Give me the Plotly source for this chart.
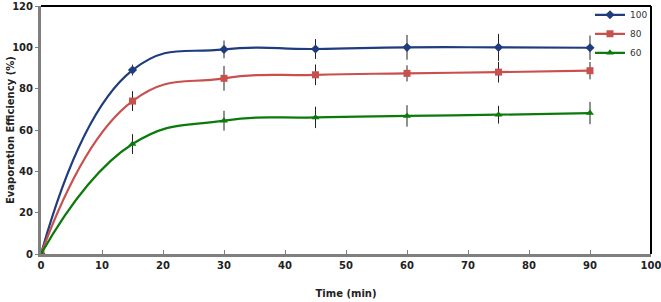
import plotly.graph_objects as go

time_min = [0, 15, 30, 45, 60, 75, 90]
eff_100 = [0, 89.0, 99.0, 99.2, 100.0, 100.0, 99.8]
eff_80 = [0, 74.0, 85.0, 86.7, 87.4, 88.0, 88.7]
eff_60 = [0, 53.2, 64.5, 66.1, 66.8, 67.4, 68.2]
err_100 = [0, 2.6, 4.3, 4.8, 6.0, 6.5, 5.9]
err_80 = [0, 4.8, 6.0, 5.0, 3.9, 5.0, 4.2]
err_60 = [0, 4.8, 4.8, 5.2, 5.2, 4.3, 5.4]

series = [
    ("100", eff_100, err_100, "#1F3C7E", "diamond", 7),
    ("80", eff_80, err_80, "#C8504D", "square", 7),
    ("60", eff_60, err_60, "#0B7A0B", "triangle-up", 7),
]

fig = go.Figure()
for name, ys, es, col, sym, sz in series:
    fig.add_trace(go.Scatter(
        x=time_min, y=ys, name=name, mode="lines+markers",
        line=dict(color=col, width=2.2, shape="spline", smoothing=1.3),
        marker=dict(symbol=sym, size=sz, color=col),
        error_y=dict(type="data", array=es, visible=True, color="#222222",
                     thickness=1, width=0),
    ))

tickfont = dict(family="DejaVu Sans", size=10, color="#222222", weight="bold")
fig.update_layout(
    width=661, height=302,
    margin=dict(l=41, r=10, t=6, b=48, autoexpand=False),
    paper_bgcolor="white", plot_bgcolor="white",
    showlegend=True,
    legend=dict(x=0.90, y=1.023, xanchor="left", yanchor="top",
                font=dict(family="DejaVu Sans", size=9, color="#333333"),
                bgcolor="rgba(0,0,0,0)", tracegroupgap=0, itemwidth=30),
    xaxis=dict(range=[0, 100], dtick=10, tick0=0, showgrid=False, zeroline=False,
               automargin=False, ticklabeloverflow="allow",
               showline=True, linecolor="#7F7F7F", linewidth=3,
               ticks="inside", ticklen=4, tickcolor="#7F7F7F",
               tickfont=tickfont,
               title=dict(text="Time (min)", font=dict(family="DejaVu Sans", size=10,
                                                       color="#222222", weight="bold"),
                          standoff=20)),
    yaxis=dict(range=[0, 120], dtick=20, tick0=0, showgrid=False, zeroline=False,
               automargin=False, ticklabeloverflow="allow",
               showline=True, linecolor="#7F7F7F", linewidth=3,
               ticks="outside", ticklen=3, tickcolor="#7F7F7F",
               tickfont=tickfont),
    annotations=[
        dict(text="Evaporation Efficiency (%)", xref="paper", yref="paper",
             x=-31 / 610, y=0.5, textangle=-90, showarrow=False,
             xanchor="center", yanchor="middle",
             font=dict(family="DejaVu Sans", size=10, color="#222222", weight="bold")),
    ],
    shapes=[
        dict(type="line", xref="paper", yref="paper", x0=0, x1=1, y0=1, y1=1,
             line=dict(color="black", width=2)),
        dict(type="line", xref="paper", yref="paper", x0=1, x1=1, y0=0, y1=1,
             line=dict(color="black", width=2)),
    ],
)

fig.write_html("out.html")
